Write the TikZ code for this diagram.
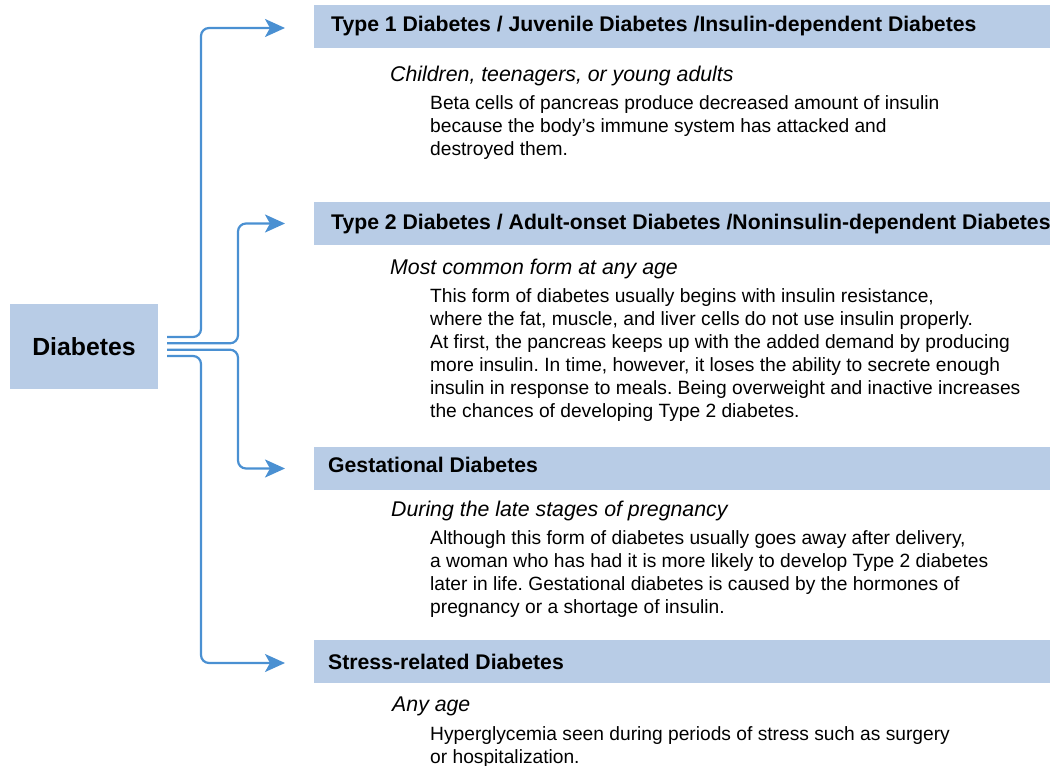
\documentclass[tikz,border=0pt]{standalone}
\usepackage{fontspec}
\setmainfont{Liberation Sans}
\usetikzlibrary{arrows.meta,calc}
\definecolor{boxblue}{RGB}{184,204,230}
\definecolor{linkblue}{RGB}{74,144,210}
\frenchspacing
\begin{document}
\begin{tikzpicture}[x=1pt,y=-1pt,
  mainbox/.style={fill=boxblue,minimum width=148pt,minimum height=85pt,inner sep=0pt,font=\fontsize{24.8}{28}\selectfont\bfseries},
  bar/.style={fill=boxblue,minimum width=736pt,minimum height=43pt,inner sep=0pt,anchor=west},
  htext/.style={anchor=base west,inner sep=0pt,font=\fontsize{21.2}{25}\selectfont\bfseries},
  subtext/.style={anchor=base west,inner sep=0pt,font=\fontsize{21.3}{25}\selectfont\itshape},
  bodytext/.style={anchor=base west,inner sep=0pt,font=\fontsize{19.2}{23}\selectfont},
  conn/.style={draw=linkblue,line width=2.2pt,rounded corners=8pt,-{Stealth[length=20pt,width=18pt,inset=5pt]}}
]
\useasboundingbox (0,0) rectangle (1050,766);
\clip (0,0) rectangle (1050,766);

\node[mainbox] (diab) at (84,346.5) {Diabetes};

\node[bar] (h1) at (314,26.5) {};
\node[bar] (h2) at (314,223.5) {};
\node[bar] (h3) at (314,468.5) {};
\node[bar] (h4) at (314,661.5) {};

\node[htext] (t1) at (331,31.5) {Type 1 Diabetes / Juvenile Diabetes /Insulin-dependent Diabetes};
\node[htext] (t2) at (331,229.5) {Type 2 Diabetes / Adult-onset Diabetes /Noninsulin-dependent Diabetes};
\node[htext] (t3) at (328,472.5) {Gestational Diabetes};
\node[htext] (t4) at (328,669.5) {Stress-related Diabetes};

\node[subtext] (u1) at (390,81) {Children, teenagers, or young adults};
\node[subtext] (u2) at (390,274) {Most common form at any age};
\node[subtext] (u3) at (391,516) {During the late stages of pregnancy};
\node[subtext] (u4) at (392,711) {Any age};

\foreach \t [count=\i from 0] in {{Beta cells of pancreas produce decreased amount of insulin},{because the body’s immune system has attacked and},{destroyed them.}}
  \node[bodytext] (ba\i) at (430,109+23*\i) {\t};
\foreach \t [count=\i from 0] in {{This form of diabetes usually begins with insulin resistance,},{where the fat, muscle, and liver cells do not use insulin properly.},{At first, the pancreas keeps up with the added demand by producing},{more insulin. In time, however, it loses the ability to secrete enough},{insulin in response to meals. Being overweight and inactive increases},{the chances of developing Type 2 diabetes.}}
  \node[bodytext] (bb\i) at (430,302+23*\i) {\t};
\foreach \t [count=\i from 0] in {{Although this form of diabetes usually goes away after delivery,},{a woman who has had it is more likely to develop Type 2 diabetes},{later in life. Gestational diabetes is caused by the hormones of},{pregnancy or a shortage of insulin.}}
  \node[bodytext] (bc\i) at (430,544+23*\i) {\t};
\foreach \t [count=\i from 0] in {{Hyperglycemia seen during periods of stress such as surgery},{or hospitalization.}}
  \node[bodytext] (bd\i) at (430,740+23*\i) {\t};

\coordinate (e1) at ($(h1.west)+(-29,1.5)$);
\coordinate (e2) at ($(h2.west)+(-29,0)$);
\coordinate (e3) at ($(h3.west)+(-29,0)$);
\coordinate (e4) at ($(h4.west)+(-29,1.5)$);

\draw[conn] ($(diab.east)+(9,-9.5)$) -| ($(e1)+(-84,0)$) -- (e1);
\draw[conn] ($(diab.east)+(9,-3.2)$) -| ($(e2)+(-47,0)$) -- (e2);
\draw[conn] ($(diab.east)+(9,3.2)$) -| ($(e3)+(-47,0)$) -- (e3);
\draw[conn] ($(diab.east)+(9,9.5)$) -| ($(e4)+(-84,0)$) -- (e4);
\end{tikzpicture}
\end{document}
